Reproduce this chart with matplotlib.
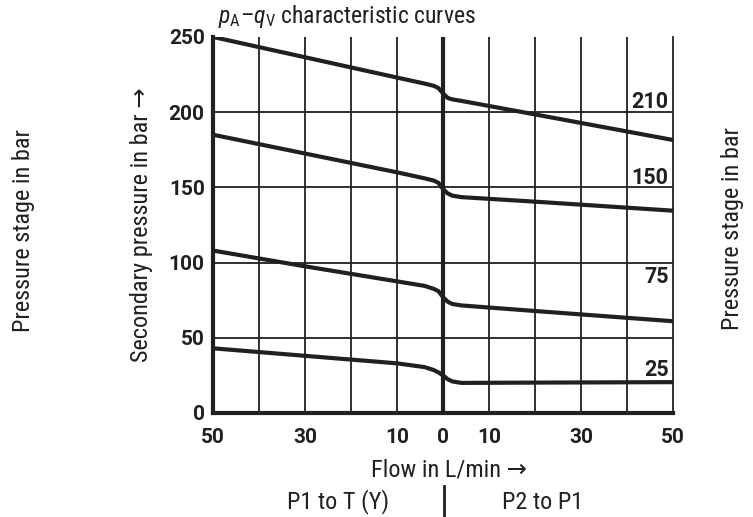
import matplotlib
matplotlib.use('Agg')
import matplotlib.pyplot as plt

plt.rcParams['font.family'] = ['Roboto Condensed', 'Roboto', 'DejaVu Sans']
plt.rcParams['mathtext.fontset'] = 'custom'
plt.rcParams['mathtext.rm'] = 'Roboto Condensed'
plt.rcParams['mathtext.it'] = 'Roboto Condensed:italic'

ink = '#231f20'
bold_family = ['Roboto', 'DejaVu Sans']

# flow (negative = P1 to T, positive = P2 to P1), secondary pressure in bar
flow = [-50, -30, -10, -4, -2, -1, 0, 1, 2, 4, 20, 50]
p210 = [250, 236.5, 223, 219, 217.5, 216, 212.5, 209.5, 208.5, 207.5, 198.5, 181.5]
p150 = [185, 172.5, 160, 156, 154.5, 153, 149, 146, 144.5, 143.5, 140.5, 134.5]
p75 = [108, 97.5, 87.5, 84.5, 82.5, 81, 77, 74, 72.5, 71.5, 67.8, 61]
p25 = [43, 38, 33, 30.5, 28.5, 27, 25, 22.5, 21, 20, 20.2, 20.5]
curves = [p210, p150, p75, p25]
stage_names = ['210', '150', '75', '25']
stage_label_y = [207, 156, 90.5, 28.5]

xticks = [-50, -30, -10, 0, 10, 30, 50]
xtick_labels = ['50', '30', '10', '0', '10', '30', '50']
yticks = [0, 50, 100, 150, 200, 250]

fig = plt.figure(figsize=(7.53, 5.17), dpi=100)
ax = fig.add_axes([0.2829, 0.2012, 0.6109, 0.7273])
ax.set_xlim(-50, 50)
ax.set_ylim(0, 250)

# grid
for gx in range(-40, 50, 10):
    if gx != 0:
        ax.axvline(gx, color=ink, lw=1.3, zorder=1)
for gy in [50, 100, 150, 200]:
    ax.axhline(gy, color=ink, lw=1.3, zorder=1)
ax.axvline(0, color=ink, lw=3, zorder=2)

for c in curves:
    ax.plot(flow, c, color=ink, lw=3, zorder=3, solid_capstyle='butt')

for name, ly in zip(stage_names, stage_label_y):
    ax.text(49, ly, name, ha='right', va='center', fontsize=15.5,
            fontweight='bold', family=bold_family, color=ink, zorder=4)

ax.spines['top'].set_visible(False)
ax.spines['left'].set_linewidth(3)
ax.spines['bottom'].set_linewidth(3)
ax.spines['right'].set_linewidth(1.3)
for s in ax.spines.values():
    s.set_color(ink)

ax.set_xticks(xticks)
ax.set_xticklabels(xtick_labels)
ax.set_yticks(yticks)
ax.tick_params(axis='x', length=0, labelsize=15, colors=ink, pad=11)
ax.tick_params(axis='y', length=0, labelsize=15, colors=ink, pad=6)
for lab in ax.get_xticklabels() + ax.get_yticklabels():
    lab.set_fontweight('bold')
    lab.set_family(bold_family)

ax.set_ylabel('Secondary pressure in bar \u2192', fontsize=17.5, color=ink, labelpad=11)

fig.text(0.289, 0.968, r'$p_\mathrm{A}$–$q_\mathrm{V}$ characteristic curves',
         fontsize=17, color=ink, ha='left', va='center')
fig.text(0.596, 0.091, 'Flow in L/min \u2192', fontsize=17.5, color=ink,
         ha='center', va='center')
fig.text(0.449, 0.029, 'P1 to T (Y)', fontsize=17.5, color=ink, ha='center', va='center')
fig.text(0.720, 0.029, 'P2 to P1', fontsize=17.5, color=ink, ha='center', va='center')
fig.add_artist(plt.Line2D([0.5897, 0.5897], [0.0, 0.06], color=ink, lw=2))
fig.text(0.031, 0.555, 'Pressure stage in bar', fontsize=17.5, color=ink,
         rotation=90, ha='center', va='center')
fig.text(0.973, 0.558, 'Pressure stage in bar', fontsize=17.5, color=ink,
         rotation=90, ha='center', va='center')

fig.savefig('out.png', dpi=100)
